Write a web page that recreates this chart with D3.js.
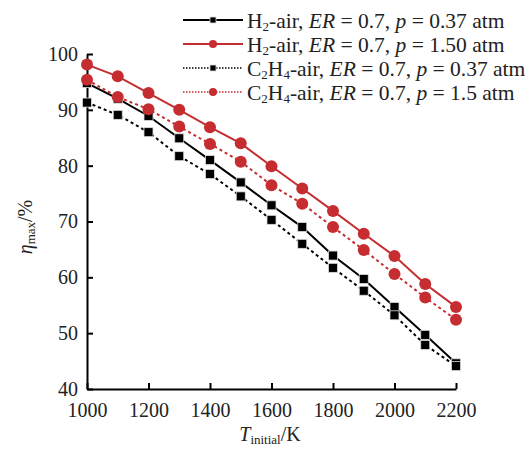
<!DOCTYPE html>
<html>
<head>
<meta charset="utf-8">
<script src="https://cdn.jsdelivr.net/npm/d3@7"></script>
<style>
  body { margin: 0; background: #fff; }
  svg { font-family: "Liberation Serif", "Times New Roman", serif; }
</style>
</head>
<body>
<div id="chart"></div>
<script>
var svgWidth = 531;
var svgHeight = 449;

var margin = { top: 54, right: 75, bottom: 60, left: 87 };
var width = svgWidth - margin.left - margin.right;
var height = svgHeight - margin.top - margin.bottom;

// data
var temps = [1000, 1100, 1200, 1300, 1400, 1500, 1600, 1700, 1800, 1900, 2000, 2100, 2200];
var h2Low = [94.8, 92.0, 88.9, 84.9, 81.0, 77.0, 72.9, 69.0, 63.9, 59.7, 54.7, 49.7, 44.6];
var h2High = [98.1, 96.0, 93.0, 90.0, 86.9, 84.0, 79.9, 75.9, 71.9, 67.8, 63.8, 58.8, 54.7];
var c2h4Low = [91.3, 89.1, 86.0, 81.7, 78.5, 74.5, 70.3, 66.0, 61.7, 57.6, 53.2, 47.9, 44.1];
var c2h4High = [95.4, 92.3, 90.1, 87.0, 83.9, 80.7, 76.5, 73.2, 69.0, 64.9, 60.6, 56.4, 52.4];
var xTicks = [1000, 1200, 1400, 1600, 1800, 2000, 2200];
var yTicks = [40, 50, 60, 70, 80, 90, 100];

var red = "#c62d30";

var series = [
  { values: h2Low, color: "#000", dash: null, marker: "square",
    label: [["H"], ["2", "sub"], ["-air, "], ["ER", "it"], [" = 0.7, "], ["p", "it"], [" = 0.37 atm"]] },
  { values: h2High, color: red, dash: null, marker: "circle",
    label: [["H"], ["2", "sub"], ["-air, "], ["ER", "it"], [" = 0.7, "], ["p", "it"], [" = 1.50 atm"]] },
  { values: c2h4Low, color: "#000", dash: "3,3", marker: "square",
    label: [["C"], ["2", "sub"], ["H"], ["4", "sub"], ["-air, "], ["ER", "it"], [" = 0.7, "], ["p", "it"], [" = 0.37 atm"]] },
  { values: c2h4High, color: red, dash: "3,3", marker: "circle",
    label: [["C"], ["2", "sub"], ["H"], ["4", "sub"], ["-air, "], ["ER", "it"], [" = 0.7, "], ["p", "it"], [" = 1.5 atm"]] }
];

var svg = d3.select("#chart")
  .append("svg")
  .attr("width", svgWidth)
  .attr("height", svgHeight);

var chartGroup = svg.append("g")
  .attr("transform", `translate(${margin.left}, ${margin.top})`);

var xScale = d3.scaleLinear().domain([1000, 2200]).range([0, width]);
var yScale = d3.scaleLinear().domain([40, 100]).range([height, 0]);

var xAxis = chartGroup.append("g")
  .attr("transform", `translate(0, ${height})`)
  .call(d3.axisBottom(xScale).tickValues(xTicks).tickSizeInner(-6).tickSizeOuter(0).tickPadding(14).tickFormat(d3.format("d")));

var yAxis = chartGroup.append("g")
  .call(d3.axisLeft(yScale).tickValues(yTicks).tickSizeInner(-6).tickSizeOuter(0).tickPadding(9));

[xAxis, yAxis].forEach(function(ax) {
  ax.selectAll("path, line").attr("stroke", "#000").attr("stroke-width", 2);
  ax.selectAll("text").attr("font-size", 20).attr("fill", "#222")
    .attr("font-family", "Liberation Serif");
});
xAxis.selectAll("text").attr("dy", "0.71em");

function drawMarker(g, type, x, y, color, size) {
  if (type === "square") {
    g.append("rect")
      .attr("x", x - size / 2).attr("y", y - size / 2)
      .attr("width", size).attr("height", size)
      .attr("fill", color)
      .attr("stroke", "#ddd").attr("stroke-width", 0.8);
  } else {
    g.append("circle")
      .attr("cx", x).attr("cy", y).attr("r", size * 2 / 3)
      .attr("fill", color);
  }
}

var line = d3.line()
  .x((d, i) => xScale(temps[i]))
  .y(d => yScale(d));

series.forEach(function(s) {
  var g = chartGroup.append("g");
  g.append("path")
    .datum(s.values)
    .attr("d", line)
    .attr("fill", "none")
    .attr("stroke", s.color)
    .attr("stroke-width", 2)
    .attr("stroke-dasharray", s.dash);
  s.values.forEach(function(v, i) {
    drawMarker(g, s.marker, xScale(temps[i]), yScale(v), s.color, 9);
  });
});

// legend
var legend = svg.append("g").attr("transform", "translate(183, 20)");
series.forEach(function(s, i) {
  var row = legend.append("g").attr("transform", `translate(0, ${i * 24})`);
  row.append("line")
    .attr("x1", 0).attr("x2", 60).attr("y1", 0).attr("y2", 0)
    .attr("stroke", s.color).attr("stroke-width", s.dash ? 1.5 : 2)
    .attr("stroke-dasharray", s.dash ? "1.5,1.5" : null);
  drawMarker(row, s.marker, 30, 0, s.color, 6);
  var t = row.append("text")
    .attr("x", 64).attr("y", 7.5)
    .attr("font-size", 21.5)
    .attr("fill", "#222");
  s.label.forEach(function(seg) {
    var span = t.append("tspan").text(seg[0]);
    if (seg[1] === "it") span.attr("font-style", "italic");
    if (seg[1] === "sub") {
      span.attr("font-size", 13).attr("baseline-shift", "-25%");
    }
  });
});

// axis titles
var xTitle = svg.append("text")
  .attr("x", 270).attr("y", 441)
  .attr("text-anchor", "middle")
  .attr("font-size", 20)
  .attr("fill", "#222");
xTitle.append("tspan").attr("font-style", "italic").text("T");
xTitle.append("tspan").attr("font-size", 13).attr("baseline-shift", "-25%").text("initial");
xTitle.append("tspan").text("/K");

var yTitle = svg.append("text")
  .attr("transform", "translate(32, 227) rotate(-90)")
  .attr("text-anchor", "middle")
  .attr("font-size", 20)
  .attr("fill", "#222");
yTitle.append("tspan").attr("font-style", "italic").text("η");
yTitle.append("tspan").attr("font-size", 13).attr("baseline-shift", "-25%").text("max");
yTitle.append("tspan").text("/%");
</script>
</body>
</html>
